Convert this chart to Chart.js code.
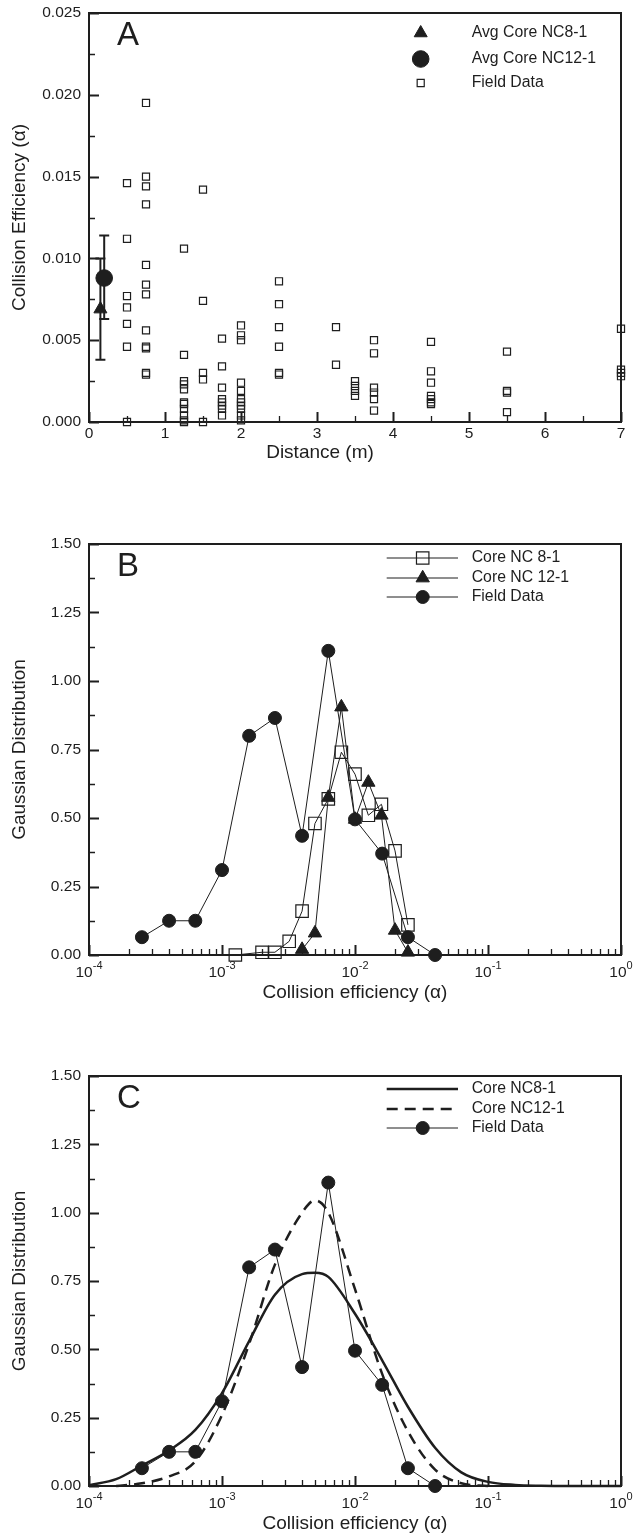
<!DOCTYPE html>
<html>
<head>
<meta charset="utf-8">
<title>Collision efficiency</title>
<script src="https://cdn.jsdelivr.net/npm/chart.js@4.4.1/dist/chart.umd.min.js"></script>
<style>
  html, body { margin: 0; padding: 0; background: #fff; }
  #page { position: relative; width: 633px; height: 1535px; }
  canvas { position: absolute; left: 0; }
</style>
</head>
<body>
<div id="page">
  <canvas id="panelA" width="633" height="472" style="top:0px"></canvas>
  <canvas id="panelB" width="633" height="474" style="top:531px"></canvas>
  <canvas id="panelC" width="633" height="473" style="top:1063px"></canvas>
</div>
<script>
// Panel A: field measurements grouped by distance (m)
const fieldDistance = [0.5, 0.75, 1.25, 1.5, 1.75, 2, 2.5, 3.25, 3.5, 3.75, 4.5, 5.5, 7];
const fieldAlpha = [
    [0.0146, 0.0112, 0.0077, 0.0070, 0.0060, 0.0046, 0.0000],
    [0.0195, 0.0150, 0.0144, 0.0133, 0.0096, 0.0084, 0.0078, 0.0056, 0.0046, 0.0045, 0.0030, 0.0029],
    [0.0106, 0.0041, 0.0025, 0.0023, 0.0020, 0.0012, 0.0011, 0.0008, 0.0004, 0.0001, 0.0000],
    [0.0142, 0.0074, 0.0030, 0.0026, 0.0000],
    [0.0051, 0.0034, 0.0021, 0.0014, 0.0012, 0.0010, 0.0008, 0.0004],
    [0.0059, 0.0053, 0.0050, 0.0024, 0.0019, 0.0014, 0.0012, 0.0010, 0.0008, 0.0004, 0.0001],
    [0.0086, 0.0072, 0.0058, 0.0046, 0.0030, 0.0029],
    [0.0058, 0.0035],
    [0.0025, 0.0022, 0.0019, 0.0016],
    [0.0050, 0.0042, 0.0021, 0.0018, 0.0014, 0.0007],
    [0.0049, 0.0031, 0.0024, 0.0016, 0.0014, 0.0012, 0.0011],
    [0.0043, 0.0019, 0.0018, 0.0006],
    [0.0057, 0.0032, 0.0030, 0.0028]
];
const avgCoreDistance = [0.15, 0.2];
const avgCoreAlpha = [0.0069, 0.0088];
const avgCoreLow = [0.0038, 0.0063];
const avgCoreHigh = [0.0100, 0.0114];

// Panels B and C: Gaussian distribution vs collision efficiency
const fieldEff = [2.5e-4, 4e-4, 6.3e-4, 1e-3, 1.6e-3, 2.5e-3, 4e-3, 6.3e-3, 1e-2, 1.6e-2, 2.5e-2, 4e-2];
const fieldGauss = [0.065, 0.125, 0.125, 0.31, 0.80, 0.865, 0.435, 1.11, 0.495, 0.37, 0.065, 0.0];
const nc8Eff = [1.26e-3, 2e-3, 2.5e-3, 3.2e-3, 4e-3, 5e-3, 6.3e-3, 7.9e-3, 1e-2, 1.26e-2, 1.58e-2, 2e-2, 2.5e-2];
const nc8Gauss = [0.0, 0.01, 0.01, 0.05, 0.16, 0.48, 0.57, 0.74, 0.66, 0.51, 0.55, 0.38, 0.11];
const nc12Eff = [4e-3, 5e-3, 6.3e-3, 7.9e-3, 1e-2, 1.26e-2, 1.58e-2, 2e-2, 2.5e-2];
const nc12Gauss = [0.02, 0.08, 0.575, 0.905, 0.495, 0.63, 0.51, 0.09, 0.01];
const fitEff = [1e-4, 1.6e-4, 2.5e-4, 4e-4, 6.3e-4, 1e-3, 1.6e-3, 2.5e-3, 4e-3, 5e-3, 6.3e-3, 1e-2, 1.6e-2, 2.5e-2, 4e-2, 6.3e-2, 0.1, 0.16, 0.25, 0.4, 1];
const fitNC8 = [0.003, 0.025, 0.075, 0.13, 0.205, 0.34, 0.53, 0.70, 0.775, 0.78, 0.765, 0.63, 0.46, 0.29, 0.14, 0.05, 0.015, 0.004, 0.001, 0, 0];
const fitNC12 = [null, 0, 0.01, 0.035, 0.09, 0.26, 0.52, 0.81, 1.0, 1.045, 1.0, 0.72, 0.41, 0.2, 0.06, 0.01, 0, null, null, null, null];

// Tick labels
const distanceTicks = [0, 1, 2, 3, 4, 5, 6, 7];
const distanceMinor = [0.5, 1.5, 2.5, 3.5, 4.5, 5.5, 6.5];
const alphaTicks = [0, 0.005, 0.01, 0.015, 0.02, 0.025];
const alphaMinor = [0.0025, 0.0075, 0.0125, 0.0175, 0.0225];
const gaussTicks = [0, 0.25, 0.5, 0.75, 1.0, 1.25, 1.5];
const gaussMinor = [0.125, 0.375, 0.625, 0.875, 1.125, 1.375];
const effTicks = [1e-4, 1e-3, 1e-2, 1e-1, 1];
const effMinor = [-4, -3, -2, -1].flatMap(e => [2, 3, 4, 5, 6, 7, 8, 9].map(m => m * Math.pow(10, e)));

const INK = "#1e1e1e";
const FONT = "'Liberation Sans', Arial, Helvetica, sans-serif";
Chart.defaults.font.family = FONT;

function pairs(xs, ys) {
    return xs.map((x, i) => ({ x: x, y: ys[i] })).filter(p => p.y !== null);
}

function markerPath(ctx, style, r, x, y) {
    ctx.beginPath();
    if (style === "rect") {
        const h = Math.SQRT1_2 * r;
        ctx.rect(x - h, y - h, 2 * h, 2 * h);
    } else if (style === "triangle") {
        for (let k = 0; k < 3; k++) {
            const a = (k * 2 * Math.PI) / 3;
            ctx[k ? "lineTo" : "moveTo"](x + Math.sin(a) * r, y - Math.cos(a) * r);
        }
        ctx.closePath();
    } else {
        ctx.arc(x, y, r, 0, 2 * Math.PI);
    }
}

function panelDecor(cfg) {
    return {
        id: "panelDecor" + cfg.letter,
        beforeDatasetsDraw(chart) {
            const { ctx, chartArea: a } = chart;
            const sx = chart.scales.x;
            const sy = chart.scales.y;
            ctx.save();
            ctx.strokeStyle = INK;
            ctx.lineCap = "butt";
            (cfg.errorBars || []).forEach(b => {
                const px = sx.getPixelForValue(b.x);
                const lo = sy.getPixelForValue(b.low);
                const hi = sy.getPixelForValue(b.high);
                ctx.lineWidth = 2;
                ctx.beginPath();
                ctx.moveTo(px, lo);
                ctx.lineTo(px, hi);
                ctx.moveTo(px - 5, lo);
                ctx.lineTo(px + 5, lo);
                ctx.moveTo(px - 5, hi);
                ctx.lineTo(px + 5, hi);
                ctx.stroke();
            });
            const xTick = (vals, len, w) => {
                ctx.lineWidth = w;
                ctx.beginPath();
                vals.forEach(v => {
                    const px = Math.round(sx.getPixelForValue(v)) + 0.5;
                    ctx.moveTo(px, a.bottom);
                    ctx.lineTo(px, a.bottom - len);
                });
                ctx.stroke();
            };
            const yTick = (vals, len, w) => {
                ctx.lineWidth = w;
                ctx.beginPath();
                vals.forEach(v => {
                    const py = Math.round(sy.getPixelForValue(v)) + 0.5;
                    ctx.moveTo(a.left, py);
                    ctx.lineTo(a.left + len, py);
                });
                ctx.stroke();
            };
            xTick(sx.ticks.map(t => t.value), 10, 2);
            xTick(cfg.xMinor, 6, 1.3);
            yTick(sy.ticks.map(t => t.value), 10, 2);
            yTick(cfg.yMinor, 6, 1.3);
            ctx.lineWidth = 2;
            ctx.strokeRect(a.left, a.top, a.right - a.left, a.bottom - a.top);
            ctx.restore();
        },
        afterDraw(chart) {
            const { ctx, chartArea: a } = chart;
            const sx = chart.scales.x;
            const sy = chart.scales.y;
            ctx.save();
            ctx.fillStyle = INK;

            // tick labels
            ctx.font = "15.5px " + FONT;
            ctx.textAlign = "right";
            ctx.textBaseline = "middle";
            sy.ticks.forEach(t => {
                ctx.fillText(t.value.toFixed(cfg.yDecimals), a.left - 8, sy.getPixelForValue(t.value));
            });
            ctx.textBaseline = "alphabetic";
            sx.ticks.forEach(t => {
                const px = sx.getPixelForValue(t.value);
                if (cfg.xLog) {
                    const exp = String(Math.round(Math.log10(t.value)));
                    ctx.font = "15.5px " + FONT;
                    const wBase = ctx.measureText("10").width;
                    ctx.font = "11px " + FONT;
                    const wExp = ctx.measureText(exp).width;
                    const x0 = px - (wBase + wExp) / 2;
                    ctx.textAlign = "left";
                    ctx.font = "15.5px " + FONT;
                    ctx.fillText("10", x0, a.bottom + 22);
                    ctx.font = "11px " + FONT;
                    ctx.fillText(exp, x0 + wBase, a.bottom + 14);
                } else {
                    ctx.textAlign = "center";
                    ctx.font = "15.5px " + FONT;
                    ctx.fillText(String(t.value), px, a.bottom + 16);
                }
            });

            // axis titles
            ctx.font = "19px " + FONT;
            ctx.textAlign = "center";
            ctx.fillText(cfg.xTitle, cfg.xTitleX, a.bottom + cfg.xTitleGap);
            ctx.save();
            ctx.translate(25, (a.top + a.bottom) / 2);
            ctx.rotate(-Math.PI / 2);
            ctx.fillText(cfg.yTitle, 0, 0);
            ctx.restore();

            // panel letter
            ctx.font = "33px " + FONT;
            ctx.textAlign = "left";
            ctx.fillText(cfg.letter, 117, 45);

            // legend, built from the datasets
            const lg = cfg.legend;
            ctx.font = "15.8px " + FONT;
            ctx.textBaseline = "middle";
            chart.data.datasets.forEach((ds, i) => {
                const y = lg.rows[i];
                ctx.strokeStyle = ds.borderColor;
                if (ds.showLine) {
                    ctx.lineWidth = ds.borderWidth;
                    ctx.setLineDash(ds.borderDash || []);
                    ctx.beginPath();
                    ctx.moveTo(lg.lineFrom, y);
                    ctx.lineTo(lg.lineTo, y);
                    ctx.stroke();
                    ctx.setLineDash([]);
                }
                if (ds.pointRadius > 0) {
                    markerPath(ctx, ds.pointStyle, ds.pointRadius, lg.markerX, y);
                    ctx.fillStyle = ds.backgroundColor;
                    ctx.fill();
                    ctx.lineWidth = ds.pointBorderWidth || ds.borderWidth;
                    ctx.stroke();
                }
                ctx.fillStyle = INK;
                ctx.fillText(ds.label, lg.textX, y);
            });
            ctx.restore();
        }
    };
}

function makePanel(id, cfg, datasets, xScale, yScale) {
    const hidden = { grid: { display: false }, border: { display: false }, ticks: { display: false } };
    return new Chart(document.getElementById(id), {
        type: "scatter",
        data: { datasets: datasets },
        options: {
            responsive: false,
            animation: false,
            events: [],
            layout: { padding: { top: 13, right: 12, left: 0, bottom: 0 } },
            plugins: { legend: { display: false }, tooltip: { enabled: false } },
            scales: {
                x: Object.assign({}, hidden, xScale, {
                    afterBuildTicks: s => { s.ticks = cfg.xTicks.map(v => ({ value: v })); },
                    afterFit: s => { s.height = 50; }
                }),
                y: Object.assign({}, hidden, yScale, {
                    afterBuildTicks: s => { s.ticks = cfg.yTicks.map(v => ({ value: v })); },
                    afterFit: s => { s.width = 89; }
                })
            }
        },
        plugins: [panelDecor(cfg)]
    });
}

const fieldPoints = fieldDistance.flatMap((d, i) => fieldAlpha[i].map(v => ({ x: d, y: v })));

makePanel("panelA", {
    letter: "A",
    xTicks: distanceTicks, xMinor: distanceMinor,
    yTicks: alphaTicks, yMinor: alphaMinor, yDecimals: 3,
    xTitle: "Distance (m)", xTitleX: 320, xTitleGap: 36,
    yTitle: "Collision Efficiency (\u03b1)",
    errorBars: avgCoreDistance.map((d, i) => ({ x: d, low: avgCoreLow[i], high: avgCoreHigh[i] })),
    legend: { markerX: 420.7, textX: 471.7, rows: [33, 59, 83] }
}, [
    {
        label: "Avg Core NC8-1",
        data: [{ x: avgCoreDistance[0], y: avgCoreAlpha[0] }],
        pointStyle: "triangle", pointRadius: 7.5,
        backgroundColor: INK, borderColor: INK, borderWidth: 1,
        clip: false, order: 1
    },
    {
        label: "Avg Core NC12-1",
        data: [{ x: avgCoreDistance[1], y: avgCoreAlpha[1] }],
        pointStyle: "circle", pointRadius: 8.3,
        backgroundColor: INK, borderColor: INK, borderWidth: 1,
        clip: false, order: 1
    },
    {
        label: "Field Data",
        data: fieldPoints,
        pointStyle: "rect", pointRadius: 5,
        backgroundColor: "rgba(0,0,0,0)", borderColor: INK, borderWidth: 1.2,
        clip: false, order: 2
    }
], { type: "linear", min: 0, max: 7 }, { type: "linear", min: 0, max: 0.025 });

const logX = { type: "logarithmic", min: 1e-4, max: 1 };
const gaussY = { type: "linear", min: 0, max: 1.5 };
const gaussLegend = { markerX: 422.7, textX: 471.7, lineFrom: 386.7, lineTo: 458, rows: [27, 47, 66] };

makePanel("panelB", {
    letter: "B",
    xTicks: effTicks, xMinor: effMinor, xLog: true,
    yTicks: gaussTicks, yMinor: gaussMinor, yDecimals: 2,
    xTitle: "Collision efficiency (\u03b1)", xTitleX: 355, xTitleGap: 43,
    yTitle: "Gaussian Distribution",
    legend: gaussLegend
}, [
    {
        label: "Core NC 8-1",
        data: pairs(nc8Eff, nc8Gauss), showLine: true,
        borderColor: INK, borderWidth: 1,
        pointStyle: "rect", pointRadius: 8.8, pointBorderWidth: 1.2,
        backgroundColor: "rgba(0,0,0,0)", clip: false
    },
    {
        label: "Core NC 12-1",
        data: pairs(nc12Eff, nc12Gauss), showLine: true,
        borderColor: INK, borderWidth: 1,
        pointStyle: "triangle", pointRadius: 7.7,
        backgroundColor: INK, clip: false
    },
    {
        label: "Field Data",
        data: pairs(fieldEff, fieldGauss), showLine: true,
        borderColor: INK, borderWidth: 1,
        pointStyle: "circle", pointRadius: 6.5,
        backgroundColor: INK, clip: false
    }
], logX, gaussY);

makePanel("panelC", {
    letter: "C",
    xTicks: effTicks, xMinor: effMinor, xLog: true,
    yTicks: gaussTicks, yMinor: gaussMinor, yDecimals: 2,
    xTitle: "Collision efficiency (\u03b1)", xTitleX: 355, xTitleGap: 43,
    yTitle: "Gaussian Distribution",
    legend: Object.assign({}, gaussLegend, { rows: [26, 46, 65] })
}, [
    {
        label: "Core NC8-1",
        data: pairs(fitEff, fitNC8), showLine: true,
        borderColor: INK, borderWidth: 2.5, pointRadius: 0,
        cubicInterpolationMode: "monotone", clip: false
    },
    {
        label: "Core NC12-1",
        data: pairs(fitEff, fitNC12), showLine: true,
        borderColor: INK, borderWidth: 2.5, borderDash: [11, 7], pointRadius: 0,
        cubicInterpolationMode: "monotone", clip: false
    },
    {
        label: "Field Data",
        data: pairs(fieldEff, fieldGauss), showLine: true,
        borderColor: INK, borderWidth: 1,
        pointStyle: "circle", pointRadius: 6.5,
        backgroundColor: INK, clip: false
    }
], logX, gaussY);
</script>
</body>
</html>
